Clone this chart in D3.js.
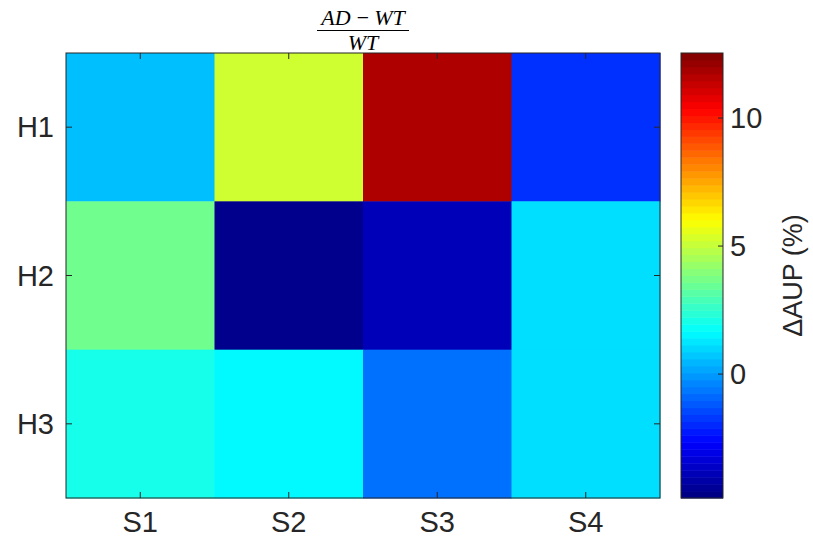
<!DOCTYPE html>
<html>
<head>
<meta charset="utf-8">
<script src="https://cdn.jsdelivr.net/npm/d3@7"></script>
<style>
body { margin: 0; background: #fff; }
text { font-family: "Liberation Sans", Arial, sans-serif; fill: #262626; }
</style>
</head>
<body>
<script>
var width = 813, height = 546;

var rows = ["H1", "H2", "H3"];
var cols = ["S1", "S2", "S3", "S4"];
// values per row (S1..S4), in %
var h1 = [0.58, 5.21, 11.73, -1.85];
var h2 = [3.59, -4.63, -3.87, 1.14];
var h3 = [2.03, 1.59, -0.76, 1.14];
var cbTicks = [0, 5, 10];
var cLimits = [-4.84, 12.54];

var values = [h1, h2, h3];
var cells = [];
values.forEach(function(r, i) {
    r.forEach(function(v, j) { cells.push({row: rows[i], col: cols[j], value: v}); });
});

// jet colormap
function clamp(x) { return Math.max(0, Math.min(1, x)); }
function jet(t) {
    var r = clamp(1.5 - Math.abs(4 * t - 3)),
        g = clamp(1.5 - Math.abs(4 * t - 2)),
        b = clamp(1.5 - Math.abs(4 * t - 1));
    return d3.rgb(r * 255, g * 255, b * 255).toString();
}
var nLevels = 64;
var tScale = d3.scaleLinear().domain(cLimits).range([0, 1]).clamp(true);
function color(v) { return jet(tScale(v)); }

var margin = {left: 66, top: 53, right: 660, bottom: 498};
var x = d3.scaleBand().domain(cols).range([margin.left, margin.right]);
var y = d3.scaleBand().domain(rows).range([margin.top, margin.bottom]);

var svg = d3.select("body").append("svg").attr("width", width).attr("height", height);

svg.append("g").selectAll("rect").data(cells).enter().append("rect")
    .attr("x", function(d) { return x(d.col); })
    .attr("y", function(d) { return y(d.row); })
    .attr("width", x.bandwidth() + 0.5)
    .attr("height", y.bandwidth() + 0.5)
    .attr("fill", function(d) { return color(d.value); });

var axisColor = "#262626";
svg.append("rect").attr("x", margin.left).attr("y", margin.top)
    .attr("width", margin.right - margin.left).attr("height", margin.bottom - margin.top)
    .attr("fill", "none").attr("stroke", axisColor).attr("stroke-width", 1);

// ticks on all four sides, pointing in
var tl = 6;
var g = svg.append("g").attr("stroke", axisColor).attr("stroke-width", 1);
cols.forEach(function(c) {
    var cx = x(c) + x.bandwidth() / 2;
    g.append("line").attr("x1", cx).attr("x2", cx).attr("y1", margin.bottom).attr("y2", margin.bottom - tl);
    g.append("line").attr("x1", cx).attr("x2", cx).attr("y1", margin.top).attr("y2", margin.top + tl);
});
rows.forEach(function(r) {
    var cy = y(r) + y.bandwidth() / 2;
    g.append("line").attr("x1", margin.left).attr("x2", margin.left + tl).attr("y1", cy).attr("y2", cy);
    g.append("line").attr("x1", margin.right).attr("x2", margin.right - tl).attr("y1", cy).attr("y2", cy);
});

svg.append("g").selectAll("text").data(cols).enter().append("text")
    .attr("x", function(d) { return x(d) + x.bandwidth() / 2; })
    .attr("y", 532)
    .attr("text-anchor", "middle")
    .style("font-size", "29px")
    .text(function(d) { return d; });

svg.append("g").selectAll("text").data(rows).enter().append("text")
    .attr("x", 54)
    .attr("y", function(d) { return y(d) + y.bandwidth() / 2; })
    .attr("dy", "0.35em")
    .attr("text-anchor", "end")
    .style("font-size", "29px")
    .text(function(d) { return d; });

// title as a fraction
var tx = (margin.left + margin.right) / 2;
var title = svg.append("g").style("font-family", "'Liberation Serif', serif").style("font-style", "italic");
title.append("text").attr("x", tx).attr("y", 25).attr("text-anchor", "middle")
    .style("font-size", "22px").style("font-family", "'Liberation Serif', serif").style("fill", "#000")
    .text("AD\u2009\u2212\u2009WT");
title.append("line").attr("x1", tx - 46).attr("x2", tx + 46).attr("y1", 30.5).attr("y2", 30.5)
    .attr("stroke", "#000").attr("stroke-width", 1.2);
title.append("text").attr("x", tx).attr("y", 50).attr("text-anchor", "middle")
    .style("font-size", "22px").style("font-family", "'Liberation Serif', serif").style("fill", "#000")
    .text("WT");

// colorbar
var cb = {x: 681, w: 42};
var cy = d3.scaleLinear().domain(cLimits).range([margin.bottom, margin.top]);
var bands = d3.range(nLevels);
svg.append("g").selectAll("rect").data(bands).enter().append("rect")
    .attr("x", cb.x)
    .attr("y", function(k) { return cy(cLimits[0] + (k + 1) * (cLimits[1] - cLimits[0]) / nLevels); })
    .attr("width", cb.w)
    .attr("height", (margin.bottom - margin.top) / nLevels + 0.5)
    .attr("fill", function(k) { return jet((k + 0.5) / nLevels); });
svg.append("rect").attr("x", cb.x).attr("y", margin.top).attr("width", cb.w)
    .attr("height", margin.bottom - margin.top).attr("fill", "none").attr("stroke", axisColor);

var cbAxis = svg.append("g");
cbTicks.forEach(function(t) {
    cbAxis.append("line").attr("x1", cb.x + cb.w).attr("x2", cb.x + cb.w - 5)
        .attr("y1", cy(t)).attr("y2", cy(t)).attr("stroke", axisColor);
    cbAxis.append("text").attr("x", cb.x + cb.w + 7).attr("y", cy(t)).attr("dy", "0.35em")
        .style("font-size", "29px").text(t);
});
svg.append("text")
    .attr("transform", "translate(802," + ((margin.top + margin.bottom) / 2) + ") rotate(-90)")
    .attr("text-anchor", "middle")
    .style("font-size", "27px")
    .text("\u0394AUP (%)");
</script>
</body>
</html>
